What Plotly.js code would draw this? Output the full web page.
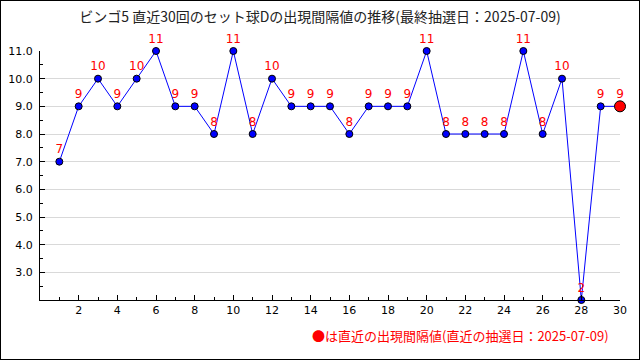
<!DOCTYPE html>
<html><head><meta charset="utf-8">
<script src="https://cdn.plot.ly/plotly-3.0.1.min.js"></script>
<style>
html,body{margin:0;padding:0;background:#fff;}
#frame{width:638px;height:358px;border:1px solid #000;}
</style></head>
<body><div id="frame"><div id="chart"></div></div>
<script>
const draws = [1,2,3,4,5,6,7,8,9,10,11,12,13,14,15,16,17,18,19,20,21,22,23,24,25,26,27,28,29,30];
const intervals = [7,9,10,9,10,11,9,9,8,11,8,10,9,9,9,8,9,9,9,11,8,8,8,8,11,8,10,2,9,9];
const titleText = 'ビンゴ5 直近30回のセット球Dの出現間隔値の推移(最終抽選日：2025-07-09)';
const noteText = '●は直近の出現間隔値(直近の抽選日：2025-07-09)';
const yTicks = [3,4,5,6,7,8,9,10,11];
const yTickText = yTicks.map(v => v.toFixed(1));
const xTicks = [2,4,6,8,10,12,14,16,18,20,22,24,26,28,30];

const n = draws.length;
const traces = [
  {
    x: draws, y: intervals, type: 'scatter', mode: 'lines+markers+text',
    text: intervals.map(String), textposition: 'top center',
    textfont: {family: 'DejaVu Sans', size: 12, color: '#ff0000'},
    line: {color: '#0000ff', width: 1},
    marker: {color: '#0000ff', size: 7, line: {color: '#000', width: 1}},
    cliponaxis: false, hoverinfo: 'none'
  },
  {
    x: [draws[n-1]], y: [intervals[n-1]], type: 'scatter', mode: 'markers',
    marker: {color: '#ff0000', size: 11, line: {color: '#000', width: 1}},
    cliponaxis: false, hoverinfo: 'none'
  }
];
const layout = {
  width: 638, height: 358,
  margin: {l: 39, r: 19, t: 50, b: 59},
  paper_bgcolor: '#fff', plot_bgcolor: '#fff',
  showlegend: false,
  title: {text: titleText, x: 0.5, xanchor: 'center', y: 0.955, yanchor: 'middle',
          font: {family: 'Noto Sans CJK JP', size: 14, color: '#222'}},
  xaxis: {
    range: [0, 30], tickvals: xTicks, ticks: 'inside', ticklen: 5, tickcolor: '#000',
    showline: true, linecolor: '#000', linewidth: 1, showgrid: false, zeroline: false,
    tickfont: {family: 'DejaVu Sans', size: 11, color: '#000'},
    minor: {dtick: 1, tick0: 0, ticks: 'inside', ticklen: 3, tickcolor: '#000'}
  },
  yaxis: {
    range: [2, 11], tickvals: yTicks, ticktext: yTickText, ticks: 'inside', ticklen: 5, tickcolor: '#000',
    ticklabelstandoff: 4,
    showline: true, linecolor: '#000', linewidth: 1, showgrid: true, gridcolor: '#d9d9d9', zeroline: false,
    tickfont: {family: 'DejaVu Sans', size: 11, color: '#000'},
    minor: {dtick: 0.5, tick0: 2, ticks: 'inside', ticklen: 3, tickcolor: '#000', showgrid: false}
  },
  annotations: [{
    text: noteText, xref: 'paper', yref: 'paper', x: 1, y: 0, xanchor: 'right', yanchor: 'middle',
    yshift: -35, xshift: -9, showarrow: false,
    font: {family: 'Noto Sans CJK JP', size: 13, color: '#ff0000'}
  }]
};
Plotly.newPlot('chart', traces, layout, {displayModeBar: false, staticPlot: true});
</script></body></html>
